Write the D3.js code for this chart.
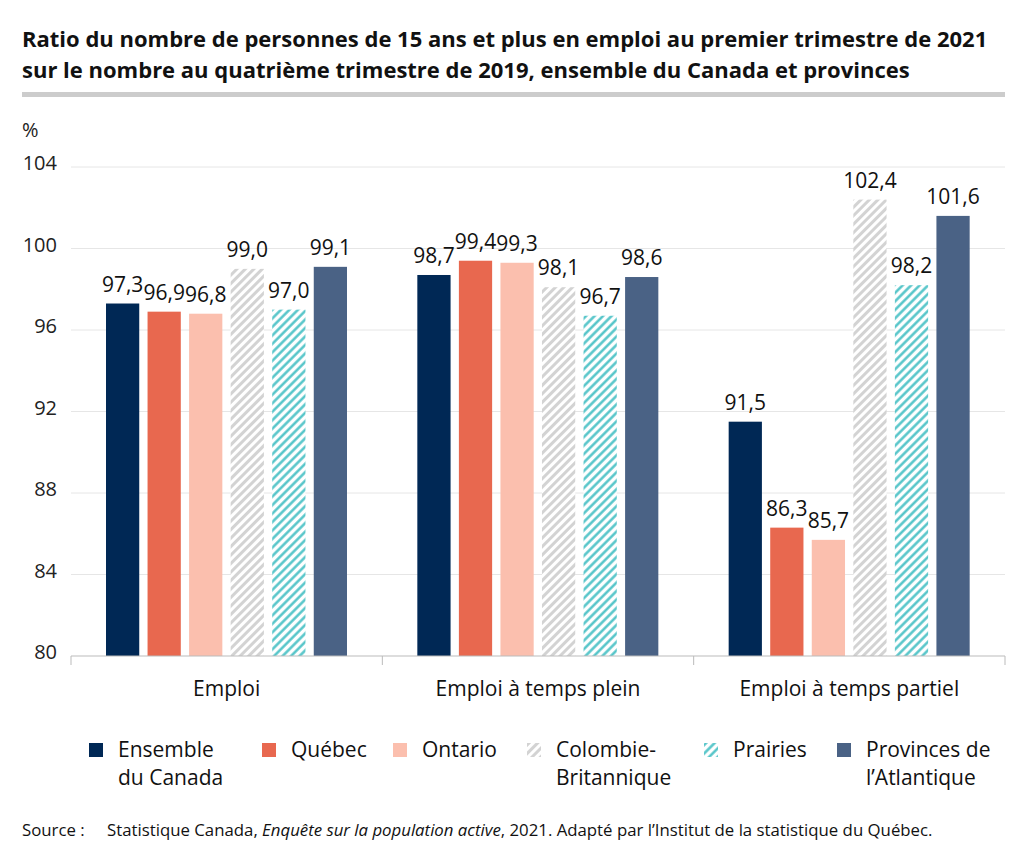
<!DOCTYPE html>
<html>
<head>
<meta charset="utf-8">
<script src="https://cdn.jsdelivr.net/npm/d3@7"></script>
<style>
  body { margin: 0; background: #fff; }
  svg { font-family: "Open Sans", "Noto Sans", sans-serif; }
</style>
</head>
<body>
<div id="chart"></div>
<script>
// Categories, series and values
const categories = ["Emploi", "Emploi à temps plein", "Emploi à temps partiel"];
const seriesKeys = ["canada", "quebec", "ontario", "cb", "prairies", "atlantique"];
const seriesLabels = [["Ensemble", "du Canada"], ["Québec"], ["Ontario"], ["Colombie-", "Britannique"], ["Prairies"], ["Provinces de", "l’Atlantique"]];
const canada = [97.3, 98.7, 91.5];
const quebec = [96.9, 99.4, 86.3];
const ontario = [96.8, 99.3, 85.7];
const cb = [99.0, 98.1, 102.4];
const prairies = [97.0, 96.7, 98.2];
const atlantique = [99.1, 98.6, 101.6];
const yTicks = [80, 84, 88, 92, 96, 100, 104];

const seriesValues = { canada, quebec, ontario, cb, prairies, atlantique };
const fills = {
    canada: "#002855",
    quebec: "#e8684f",
    ontario: "#fbbfae",
    cb: "url(#hatch-cb)",
    prairies: "url(#hatch-prairies)",
    atlantique: "#4a6285"
};

const width = 1024, height = 862;
const margin = { left: 71, right: 1005, top: 167, bottom: 656 };

const svg = d3.select("#chart").append("svg")
    .attr("width", width)
    .attr("height", height);

// Hatch patterns
const defs = svg.append("defs");
function hatch(id, color, sw) {
    const p = defs.append("pattern")
        .attr("id", id)
        .attr("patternUnits", "userSpaceOnUse")
        .attr("width", 6)
        .attr("height", 6)
        .attr("patternTransform", "rotate(45)");
    p.append("rect").attr("width", 6).attr("height", 6).attr("fill", "#fff");
    p.append("line")
        .attr("x1", 1.5).attr("y1", 0).attr("x2", 1.5).attr("y2", 6)
        .attr("stroke", color)
        .attr("stroke-width", sw);
}
hatch("hatch-cb", "#d3d3d3", 3);
hatch("hatch-prairies", "#4cc2c6", 2.4);

// Title
const title = svg.append("text")
    .attr("x", 22)
    .attr("font-size", 22)
    .attr("font-weight", "bold")
    .attr("fill", "#111");
title.append("tspan").attr("x", 22).attr("y", 47).text("Ratio du nombre de personnes de 15 ans et plus en emploi au premier trimestre de 2021");
title.append("tspan").attr("x", 22).attr("y", 78).text("sur le nombre au quatrième trimestre de 2019, ensemble du Canada et provinces");

svg.append("rect")
    .attr("x", 22).attr("y", 92)
    .attr("width", 983).attr("height", 5)
    .attr("fill", "#cccccc");

// Scales
const x0 = d3.scaleBand()
    .domain(categories)
    .range([margin.left, margin.right]);

const x1 = d3.scaleBand()
    .domain(seriesKeys)
    .range([35, 276])
    .paddingInner(0.2)
    .paddingOuter(0);

const y = d3.scaleLinear()
    .domain([80, 104])
    .range([margin.bottom, margin.top]);

// Gridlines
svg.append("g")
    .selectAll("line")
    .data(yTicks.filter(d => d > 80))
    .join("line")
    .attr("x1", margin.left)
    .attr("x2", margin.right)
    .attr("y1", d => y(d))
    .attr("y2", d => y(d))
    .attr("stroke", "#e6e6e6")
    .attr("stroke-width", 1);

// Y axis labels
svg.append("text")
    .attr("x", 22).attr("y", 137)
    .attr("font-size", 20)
    .attr("fill", "#222")
    .text("%");

svg.append("g")
    .selectAll("text")
    .data(yTicks)
    .join("text")
    .attr("x", 57)
    .attr("y", d => y(d) + 3)
    .attr("text-anchor", "end")
    .attr("font-size", 20)
    .attr("fill", "#222")
    .text(d => d);

// Bars
const groups = svg.append("g")
    .selectAll("g")
    .data(categories)
    .join("g")
    .attr("transform", d => `translate(${x0(d)},0)`);

groups.selectAll("rect")
    .data((d, i) => seriesKeys.map(k => ({ key: k, value: seriesValues[k][i] })))
    .join("rect")
    .attr("x", d => x1(d.key))
    .attr("width", x1.bandwidth())
    .attr("y", d => y(d.value))
    .attr("height", d => y(80) - y(d.value))
    .attr("fill", d => fills[d.key]);

groups.selectAll("text")
    .data((d, i) => seriesKeys.map(k => ({ key: k, value: seriesValues[k][i] })))
    .join("text")
    .attr("x", d => x1(d.key) + x1.bandwidth() / 2)
    .attr("y", d => y(d.value) - 12)
    .attr("text-anchor", "middle")
    .attr("font-size", 21)
    .attr("fill", "#111")
    .text(d => d3.format(".1f")(d.value).replace(".", ","));

// X axis
const xAxis = svg.append("g");
xAxis.append("line")
    .attr("x1", margin.left).attr("x2", margin.right)
    .attr("y1", margin.bottom).attr("y2", margin.bottom)
    .attr("stroke", "#bbbbbb");
xAxis.selectAll(".tick")
    .data(categories.map(c => x0(c)).concat([margin.right]))
    .join("line")
    .attr("class", "tick")
    .attr("x1", d => d).attr("x2", d => d)
    .attr("y1", margin.bottom).attr("y2", margin.bottom + 9)
    .attr("stroke", "#bbbbbb");
xAxis.selectAll("text")
    .data(categories)
    .join("text")
    .attr("x", d => x0(d) + x0.bandwidth() / 2)
    .attr("y", 696)
    .attr("text-anchor", "middle")
    .attr("font-size", 21)
    .attr("fill", "#111")
    .text(d => d);

// Legend
const legendX = [89, 262, 393, 527, 704, 837];
const legend = svg.append("g")
    .selectAll("g")
    .data(seriesKeys)
    .join("g")
    .attr("transform", (d, i) => `translate(${legendX[i]},743)`);

legend.append("rect")
    .attr("width", 14)
    .attr("height", 14)
    .attr("fill", d => fills[d]);

legend.append("text")
    .attr("font-size", 21)
    .attr("fill", "#111")
    .each(function (d, i) {
        const t = d3.select(this);
        seriesLabels[i].forEach((line, j) => {
            t.append("tspan")
                .attr("x", 29)
                .attr("y", 14 + j * 28)
                .text(line);
        });
    });

// Source
const source = svg.append("text")
    .attr("y", 836)
    .attr("font-size", 16.8)
    .attr("fill", "#111");
source.append("tspan").attr("x", 22).text("Source :");
source.append("tspan").attr("x", 107).text("Statistique Canada, ");
source.append("tspan").attr("font-style", "italic").text("Enquête sur la population active");
source.append("tspan").text(", 2021. Adapté par l’Institut de la statistique du Québec.");
</script>
</body>
</html>
